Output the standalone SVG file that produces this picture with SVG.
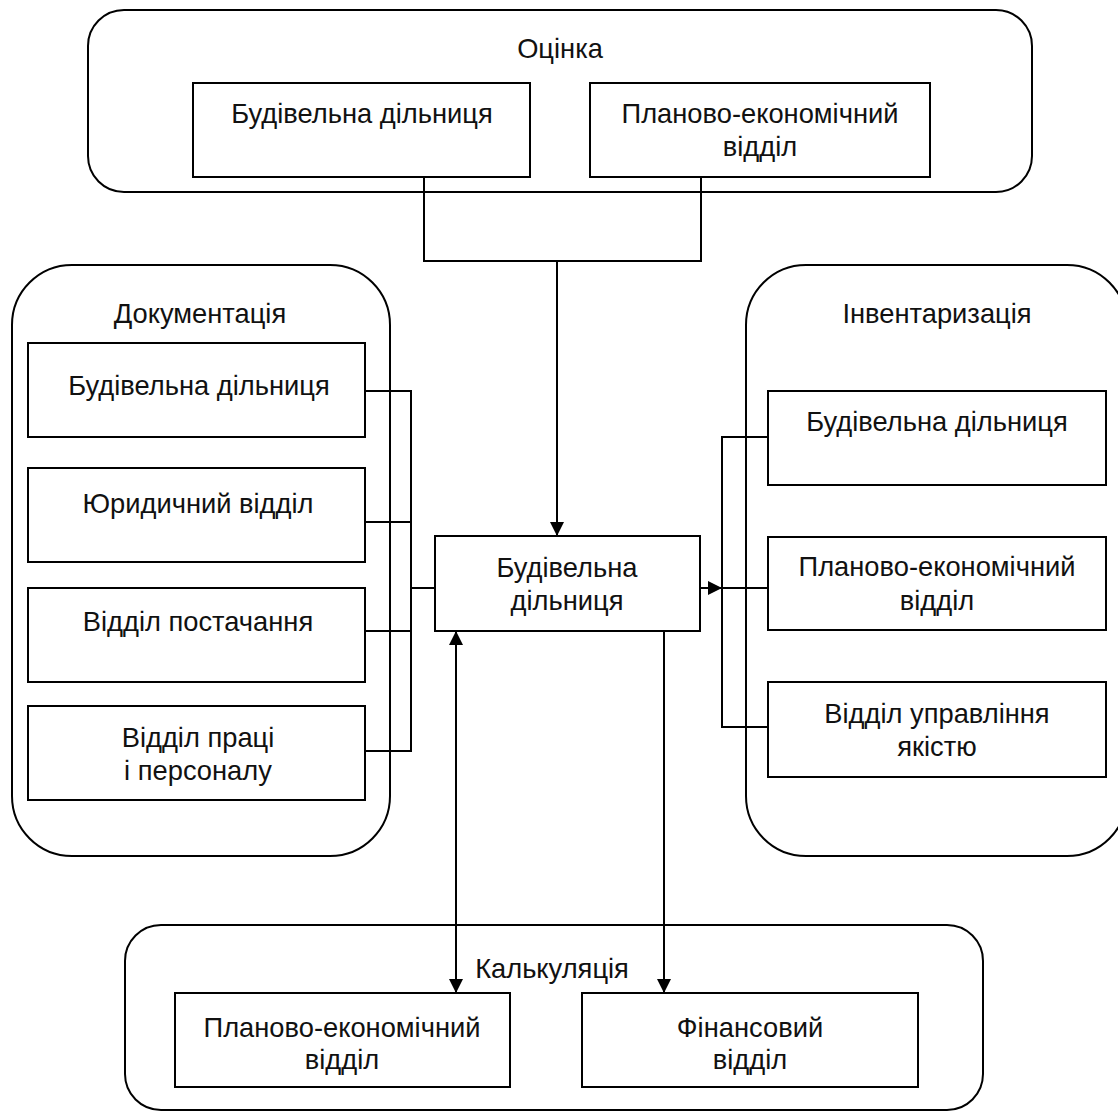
<svg xmlns="http://www.w3.org/2000/svg" width="1118" height="1115" viewBox="0 0 1118 1115">
<style>
.c{fill:#fff;stroke:#000;stroke-width:2}
.b{fill:#fff;stroke:#000;stroke-width:2}
.t{font-family:"Liberation Sans",Arial,sans-serif;font-size:27.3px;fill:#111;text-anchor:middle}
.l{fill:none;stroke:#000;stroke-width:2}
</style>
<defs>
<marker id="a" markerUnits="userSpaceOnUse" markerWidth="14" markerHeight="14" refX="14" refY="7" orient="auto-start-reverse">
<path d="M0,0 L14,7 L0,14 z" fill="#000"/>
</marker>
</defs>
<rect width="1118" height="1115" fill="#fff"/>
<g id="group-ocinka">
<rect class="c" x="88" y="10" width="944" height="182" rx="36"/>
<text class="t" x="560" y="58">Оцінка</text>
</g>
<g id="group-dokumentacia">
<rect class="c" x="12" y="265" width="378" height="591" rx="60"/>
<text class="t" x="200" y="323">Документація</text>
</g>
<g id="group-inventaryzacia">
<rect class="c" x="746" y="265" width="381" height="591" rx="60"/>
<text class="t" x="937" y="323">Інвентаризація</text>
</g>
<g id="group-kalkuliacia">
<rect class="c" x="125" y="925" width="858" height="185" rx="36"/>
<text class="t" x="552" y="978">Калькуляція</text>
</g>
<g id="top-1">
<rect class="b" x="193" y="83" width="337" height="94"/>
<text class="t" x="362" y="123">Будівельна дільниця</text>
</g>
<g id="top-2">
<rect class="b" x="590" y="83" width="340" height="94"/>
<text class="t" x="760" y="123">Планово-економічний</text>
<text class="t" x="760" y="156">відділ</text>
</g>
<g id="left-1">
<rect class="b" x="28" y="343" width="337" height="94"/>
<text class="t" x="199" y="395">Будівельна дільниця</text>
</g>
<g id="left-2">
<rect class="b" x="28" y="468" width="337" height="94"/>
<text class="t" x="198" y="513">Юридичний відділ</text>
</g>
<g id="left-3">
<rect class="b" x="28" y="588" width="337" height="94"/>
<text class="t" x="198" y="631">Відділ постачання</text>
</g>
<g id="left-4">
<rect class="b" x="28" y="706" width="337" height="94"/>
<text class="t" x="198" y="747">Відділ праці</text>
<text class="t" x="198" y="780">і персоналу</text>
</g>
<g id="center">
<rect class="b" x="435" y="536" width="265" height="95"/>
<text class="t" x="567" y="577">Будівельна</text>
<text class="t" x="567" y="610">дільниця</text>
</g>
<g id="right-1">
<rect class="b" x="768" y="391" width="338" height="94"/>
<text class="t" x="937" y="431">Будівельна дільниця</text>
</g>
<g id="right-2">
<rect class="b" x="768" y="537" width="338" height="93"/>
<text class="t" x="937" y="576">Планово-економічний</text>
<text class="t" x="937" y="610">відділ</text>
</g>
<g id="right-3">
<rect class="b" x="768" y="682" width="338" height="95"/>
<text class="t" x="937" y="723">Відділ управління</text>
<text class="t" x="937" y="756">якістю</text>
</g>
<g id="bottom-1">
<rect class="b" x="175" y="993" width="335" height="94"/>
<text class="t" x="342" y="1037">Планово-економічний</text>
<text class="t" x="342" y="1069">відділ</text>
</g>
<g id="bottom-2">
<rect class="b" x="582" y="993" width="336" height="94"/>
<text class="t" x="750" y="1037">Фінансовий</text>
<text class="t" x="750" y="1069">відділ</text>
</g>
<g id="connectors">
<path class="l" d="M424,177 V261 H701 V177"/>
<path class="l" d="M557,261 V536" marker-end="url(#a)"/>
<path class="l" d="M365,391 H411 V751 H365 M365,522 H411 M365,631 H411 M411,588 H435"/>
<path class="l" d="M701,588 H722" marker-end="url(#a)"/>
<path class="l" d="M768,437 H722 V727 H768 M722,588 H768"/>
<path class="l" d="M456,631 V993" marker-start="url(#a)" marker-end="url(#a)"/>
<path class="l" d="M664,631 V993" marker-end="url(#a)"/>
</g>
</svg>
